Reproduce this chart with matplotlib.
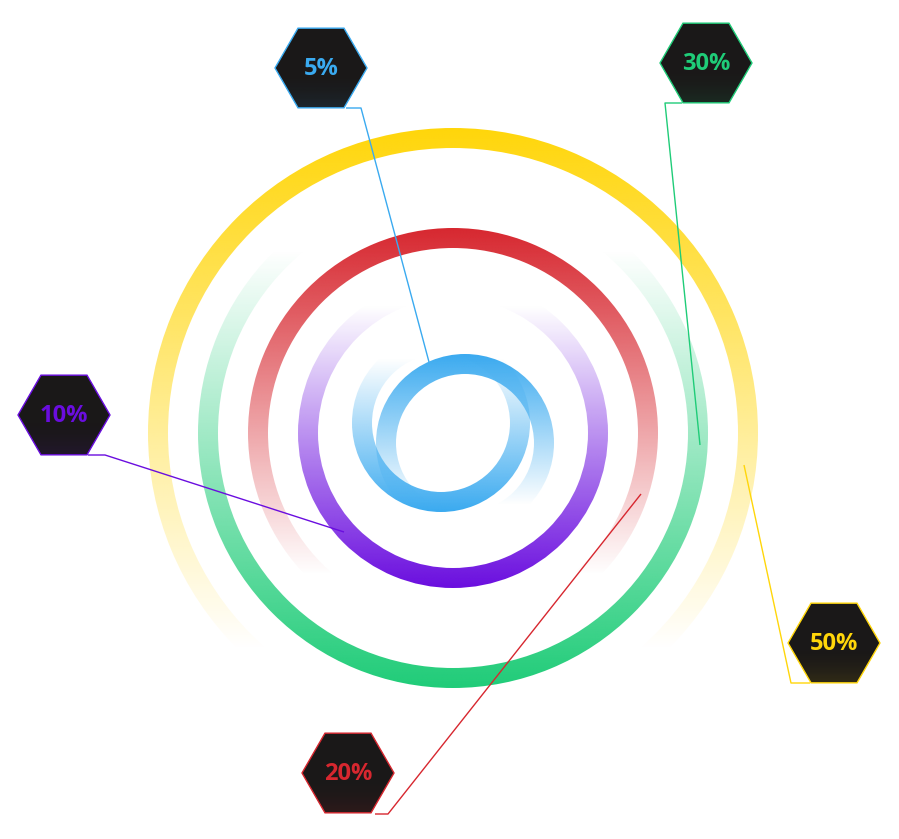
import numpy as np
import matplotlib
matplotlib.use("Agg")
import matplotlib.pyplot as plt
from matplotlib.patches import Annulus, RegularPolygon
from matplotlib.colors import to_rgb

# --- data --------------------------------------------------------------
labels = ["5%", "10%", "20%", "30%", "50%"]
values = [5, 10, 20, 30, 50]
colors = ["#3aaaf0", "#6a0ddf", "#d7272f", "#1fcc78", "#ffd60a"]

# --- layout (pixel coords, y downwards) --------------------------------
W, H = 899, 839
cx, cy = 453, 433
ring_outer = [89, 155, 205, 255, 305]
ring_width = 20
# y where the ring is fully opaque, and y where it has faded out
ring_solid = [354, 588, 228, 688, 128]
ring_clear = [505, 305, 575, 250, 650]

hex_centers = [(321, 68), (64, 415), (348, 773), (706, 63), (834, 643)]
hex_radius = 46
# leader lines: hexagon corner -> elbow -> ring
leaders = [
    [(346, 108), (361, 108), (429, 362)],
    [(88, 455), (105, 455), (344, 532)],
    [(375, 814), (388, 814), (641, 494)],
    [(682, 103), (665, 103), (700, 445)],
    [(810, 683), (791, 683), (744, 465)],
]


def gradient_ring(ax, x0, y0, r_out, color, y_solid, y_clear):
    rgb = to_rgb(color)
    n = 400
    ys = np.linspace(y0 - r_out, y0 + r_out, n)
    alpha = np.clip((ys - y_clear) / (y_solid - y_clear), 0, 1)
    img = np.zeros((n, 2, 4))
    img[..., :3] = rgb
    img[..., 3] = alpha[:, None]
    im = ax.imshow(img, extent=(x0 - r_out, x0 + r_out, y0 + r_out, y0 - r_out),
                   origin="upper", interpolation="bilinear", aspect="auto", zorder=2)
    clip = Annulus((x0, y0), r_out, ring_width, facecolor="none", edgecolor="none")
    ax.add_patch(clip)
    im.set_clip_path(clip)


fig = plt.figure(figsize=(W / 100, H / 100), dpi=100)
ax = fig.add_axes([0, 0, 1, 1])
ax.set_xlim(0, W)
ax.set_ylim(H, 0)
ax.axis("off")

# outer four rings, concentric
for i in range(1, 5):
    gradient_ring(ax, cx, cy, ring_outer[i], colors[i], ring_solid[i], ring_clear[i])

# inner blue ring drawn as two offset loops (spiral look)
gradient_ring(ax, cx + 12, cy + 10, ring_outer[0], colors[0], 354, 505)
gradient_ring(ax, cx - 12, cy - 10, ring_outer[0], colors[0], 512, 358)

# leader lines
for pts, c in zip(leaders, colors):
    xs, ys = zip(*pts)
    ax.plot(xs, ys, color=c, lw=1.0, zorder=3, solid_capstyle="butt")

# hexagon badges
for (hx, hy), lab, c in zip(hex_centers, labels, colors):
    hexp = RegularPolygon((hx, hy), 6, radius=hex_radius, orientation=np.pi / 6,
                          facecolor="#1a1818", edgecolor=c, lw=1.0, zorder=4)
    ax.add_patch(hexp)
    n = 100
    ys = np.linspace(hy - hex_radius, hy + hex_radius, n)
    alpha = np.clip((ys - hy) / hex_radius, 0, 1) ** 2 * 0.14
    img = np.zeros((n, 2, 4))
    img[..., :3] = to_rgb(c)
    img[..., 3] = alpha[:, None]
    im = ax.imshow(img, extent=(hx - hex_radius, hx + hex_radius, hy + hex_radius, hy - hex_radius),
                   origin="upper", interpolation="bilinear", aspect="auto", zorder=4.5)
    im.set_clip_path(hexp)
    ax.text(hx, hy + 1, lab, color=c, fontsize=17, fontweight="bold",
            family=["Open Sans", "DejaVu Sans"], ha="center", va="center", zorder=5)

ax.set_xlim(0, W)
ax.set_ylim(H, 0)
fig.savefig("out.png", dpi=100, facecolor="white")
